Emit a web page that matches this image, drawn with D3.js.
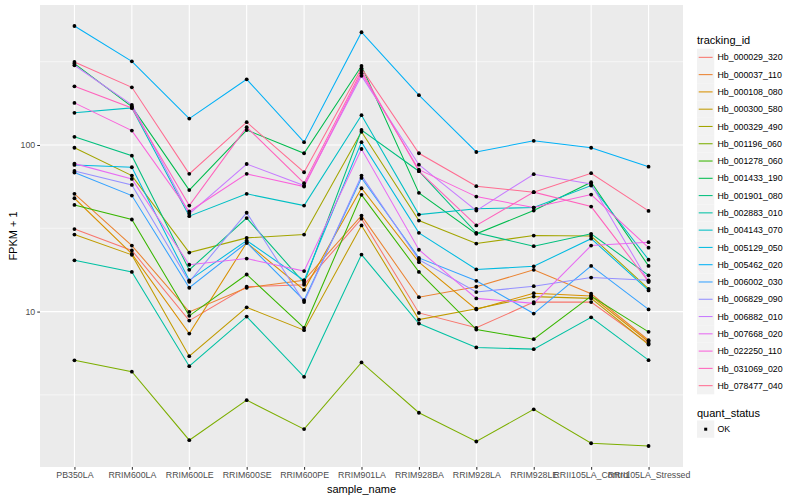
<!DOCTYPE html>
<html>
<head>
<meta charset="utf-8">
<script src="https://cdn.jsdelivr.net/npm/d3@7"></script>
<style>
  body { margin: 0; background: #fff; }
  text { font-family: "Liberation Sans", Arial, sans-serif; }
</style>
</head>
<body>
<svg id="chart" width="800" height="500"></svg>
<script>
const samples = ['PB350LA', 'RRIM600LA', 'RRIM600LE', 'RRIM600SE', 'RRIM600PE', 'RRIM901LA',
  'RRIM928BA', 'RRIM928LA', 'RRIM928LE', 'RRII105LA_Control', 'RRII105LA_Stressed'];

const trackingIds = ['Hb_000029_320', 'Hb_000037_110', 'Hb_000108_080', 'Hb_000300_580',
  'Hb_000329_490', 'Hb_001196_060', 'Hb_001278_060', 'Hb_001433_190', 'Hb_001901_080',
  'Hb_002883_010', 'Hb_004143_070', 'Hb_005129_050', 'Hb_005462_020', 'Hb_006002_030',
  'Hb_006829_090', 'Hb_006882_010', 'Hb_007668_020', 'Hb_022250_110', 'Hb_031069_020',
  'Hb_078477_040'];

const hueColors = ['#F8766D', '#EA8331', '#D89000', '#C09B00', '#A3A500', '#7CAE00', '#39B600',
  '#00BB4E', '#00BF7D', '#00C1A3', '#00BFC4', '#00BAE0', '#00B0F6', '#35A2FF', '#9590FF',
  '#C77CFF', '#E76BF3', '#FA62DB', '#FF62BC', '#FF6C91'];

// FPKM + 1, one array per gene, in the order of samples
const hb_000029_320 = [31.3, 23.3, 8.83, 14.1, 14.5, 36.1, 9.82, 7.99, 11.4, 11.4, 6.43];
const hb_000037_110 = [50.9, 24.9, 9.96, 13.9, 15.4, 37.7, 12.2, 14.1, 17.8, 12.8, 6.73];
const hb_000108_080 = [47.9, 22.2, 7.38, 25.9, 13.5, 55.0, 19.8, 10.3, 12.9, 12.4, 6.59];
const hb_000300_580 = [29.0, 21.9, 5.40, 10.6, 7.73, 32.9, 8.95, 10.4, 12.3, 12.0, 6.34];
const hb_000329_490 = [96.3, 65.5, 22.6, 27.7, 29.0, 120, 35.2, 25.6, 28.6, 28.4, 13.7];
const hb_001196_060 = [5.1, 4.36, 1.69, 2.94, 1.97, 4.95, 2.47, 1.66, 2.59, 1.62, 1.56];
const hb_001278_060 = [43.7, 35.7, 9.43, 16.7, 7.99, 50.2, 17.3, 7.80, 6.83, 12.4, 7.56];
const hb_001433_190 = [308, 170, 53.6, 123, 89.2, 298, 51.6, 29.3, 40.4, 59.8, 18.8];
const hb_001901_080 = [112, 86.3, 17.8, 36.4, 14.9, 123, 69.6, 29.7, 24.7, 29.3, 16.5];
const hb_002883_010 = [20.3, 17.3, 4.70, 9.33, 4.06, 22.0, 8.48, 6.09, 5.95, 9.24, 5.11];
const hb_004143_070 = [156, 167, 37.4, 50.9, 43.3, 151, 38.2, 41.4, 42.1, 57.1, 20.5];
const hb_005129_050 = [75.9, 73.5, 15.4, 26.7, 15.4, 104, 29.7, 17.9, 18.7, 27.4, 13.4];
const hb_005462_020 = [518, 318, 144, 248, 104, 475, 199, 90.8, 106, 96.3, 74.1];
const hb_006002_030 = [68.3, 49.7, 13.9, 25.9, 11.7, 63.4, 21.0, 15.3, 9.73, 18.8, 10.3];
const hb_006829_090 = [69.9, 57.6, 15.1, 39.2, 11.4, 65.5, 20.5, 13.1, 14.2, 16.0, 15.4];
const hb_006882_010 = [301, 174, 38.6, 76.9, 57.1, 260, 76.2, 40.4, 66.8, 58.4, 15.1];
const hb_007668_020 = [77.3, 62.6, 19.1, 20.8, 17.5, 94.6, 23.5, 12.0, 11.2, 24.9, 26.1];
const hb_022250_110 = [179, 122, 39.9, 67.1, 56.3, 270, 71.1, 49.0, 42.1, 50.4, 24.2];
const hb_031069_020 = [225, 167, 43.3, 128, 59.0, 279, 69.6, 32.9, 52.1, 42.7, 15.1];
const hb_078477_040 = [315, 222, 67.1, 137, 68.6, 289, 89.2, 56.6, 52.1, 67.7, 40.2];

const seriesValues = [hb_000029_320, hb_000037_110, hb_000108_080, hb_000300_580, hb_000329_490,
  hb_001196_060, hb_001278_060, hb_001433_190, hb_001901_080, hb_002883_010, hb_004143_070,
  hb_005129_050, hb_005462_020, hb_006002_030, hb_006829_090, hb_006882_010, hb_007668_020,
  hb_022250_110, hb_031069_020, hb_078477_040];

const yMajor = [10, 100];
const yMinor = [3.1623, 31.623, 316.23];

const series = trackingIds.map((id, i) => ({
  id: id,
  color: hueColors[i],
  points: samples.map((s, j) => ({ sample: s, value: seriesValues[i][j] })),
}));

const panel = { left: 40, top: 5, right: 683, bottom: 467 };
const svg = d3.select('#chart');

const x = d3.scalePoint().domain(samples).range([panel.left, panel.right]).padding(0.6);

// log scale with ggplot style 5% expansion
let ext = d3.extent(seriesValues.flat()).map(Math.log10);
let pad = (ext[1] - ext[0]) * 0.05;
const y = d3
  .scaleLog()
  .domain([Math.pow(10, ext[0] - pad), Math.pow(10, ext[1] + pad)])
  .range([panel.bottom, panel.top]);

svg
  .append('rect')
  .attr('x', panel.left)
  .attr('y', panel.top)
  .attr('width', panel.right - panel.left)
  .attr('height', panel.bottom - panel.top)
  .attr('fill', '#EBEBEB');

svg
  .append('g')
  .selectAll('line')
  .data(yMinor)
  .join('line')
  .attr('x1', panel.left)
  .attr('x2', panel.right)
  .attr('y1', (d) => y(d))
  .attr('y2', (d) => y(d))
  .attr('stroke', '#fff')
  .attr('stroke-width', 0.55);

svg
  .append('g')
  .selectAll('line')
  .data(yMajor)
  .join('line')
  .attr('x1', panel.left)
  .attr('x2', panel.right)
  .attr('y1', (d) => y(d))
  .attr('y2', (d) => y(d))
  .attr('stroke', '#fff')
  .attr('stroke-width', 1.1);

svg
  .append('g')
  .selectAll('line')
  .data(samples)
  .join('line')
  .attr('x1', (d) => x(d))
  .attr('x2', (d) => x(d))
  .attr('y1', panel.top)
  .attr('y2', panel.bottom)
  .attr('stroke', '#fff')
  .attr('stroke-width', 1.1);

// lines
const line = d3
  .line()
  .x((d) => x(d.sample))
  .y((d) => y(d.value));

svg
  .append('g')
  .selectAll('path')
  .data(series)
  .join('path')
  .attr('d', (d) => line(d.points))
  .attr('fill', 'none')
  .attr('stroke', (d) => d.color)
  .attr('stroke-width', 1.05);

svg
  .append('g')
  .selectAll('circle')
  .data(series.flatMap((d) => d.points))
  .join('circle')
  .attr('cx', (d) => x(d.sample))
  .attr('cy', (d) => y(d.value))
  .attr('r', 1.9)
  .attr('fill', '#000');

// axes
const yAxis = svg
  .append('g')
  .attr('transform', `translate(${panel.left},0)`)
  .call(d3.axisLeft(y).tickValues(yMajor).tickSize(2.75).tickPadding(2).tickFormat(d3.format('d')));
const xAxis = svg
  .append('g')
  .attr('transform', `translate(0,${panel.bottom})`)
  .call(d3.axisBottom(x).tickSize(2.75).tickPadding(2));

[yAxis, xAxis].forEach((a) => {
  a.select('.domain').remove();
  a.selectAll('.tick line').attr('stroke', '#333').attr('stroke-width', 1.05);
  a.selectAll('.tick text')
    .attr('fill', '#4D4D4D')
    .style('font-size', '8.8px')
    .style('font-family', '"Liberation Sans", Arial, sans-serif');
});

svg
  .append('text')
  .attr('x', (panel.left + panel.right) / 2)
  .attr('y', 493)
  .attr('text-anchor', 'middle')
  .style('font-size', '11px')
  .text('sample_name');

svg
  .append('text')
  .attr('transform', `translate(17,${(panel.top + panel.bottom) / 2}) rotate(-90)`)
  .attr('text-anchor', 'middle')
  .style('font-size', '11px')
  .text('FPKM + 1');

// legend
const legend = svg.append('g').attr('transform', 'translate(697,0)');
legend.append('text').attr('x', 0).attr('y', 44).style('font-size', '11px').text('tracking_id');

let keys = legend
  .selectAll('g.key')
  .data(series)
  .join('g')
  .attr('class', 'key')
  .attr('transform', (d, i) => `translate(0,${48.7 + i * 17.28})`);
keys.append('rect').attr('width', 17.28).attr('height', 17.28).attr('fill', '#F2F2F2');
keys
  .append('line')
  .attr('x1', 1.7)
  .attr('x2', 15.6)
  .attr('y1', 8.64)
  .attr('y2', 8.64)
  .attr('stroke', (d) => d.color)
  .attr('stroke-width', 1.05);
keys
  .append('text')
  .attr('x', 20.5)
  .attr('y', 11.8)
  .style('font-size', '8.8px')
  .text((d) => d.id);

legend.append('text').attr('x', 0).attr('y', 417).style('font-size', '11px').text('quant_status');
legend
  .append('rect')
  .attr('y', 420.5)
  .attr('width', 17.28)
  .attr('height', 17.28)
  .attr('fill', '#F2F2F2');
legend
  .append('rect')
  .attr('x', 7.2)
  .attr('y', 427.7)
  .attr('width', 3)
  .attr('height', 3)
  .attr('fill', '#000');
legend.append('text').attr('x', 20.5).attr('y', 432.3).style('font-size', '8.8px').text('OK');
</script>
</body>
</html>
